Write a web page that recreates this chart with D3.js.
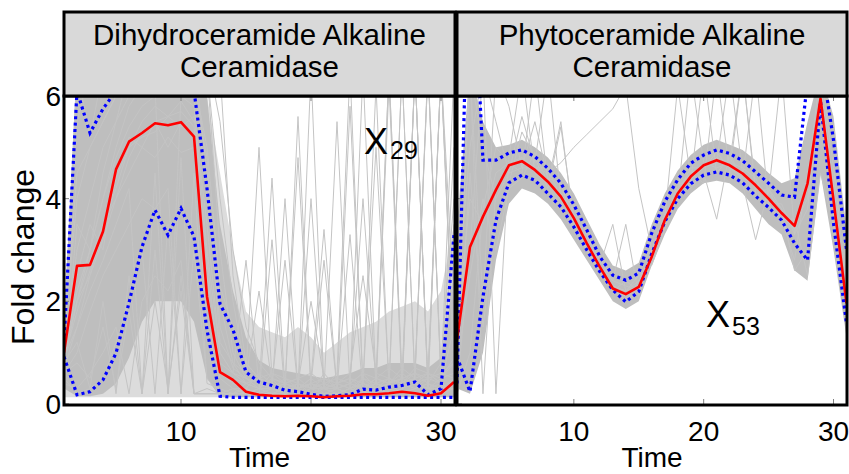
<!DOCTYPE html>
<html><head><meta charset="utf-8">
<script src="https://cdn.jsdelivr.net/npm/d3@7"></script>
<style>
body{margin:0;background:#fff}
svg{display:block}
text{font-family:"Liberation Sans",Arial,Helvetica,sans-serif;fill:#000}
</style>
</head><body>
<svg id="chart" width="849" height="474"></svg>
<script>
// ---------- data ----------
const times = [1,2,3,4,5,6,7,8,9,10,11,12,13,14,15,16,17,18,19,20,21,22,23,24,25,26,27,28,29,30,31];
const xTickValues = [10,20,30];
const yTickValues = [0,2,4,6];
const titles1 = ["Dihydroceramide Alkaline","Ceramidase"];
const titles2 = ["Phytoceramide Alkaline","Ceramidase"];
const cluster1 = ["X","29"];
const cluster2 = ["X","53"];
const xLabel = "Time";
const yLabel = "Fold change";

// Panel 1 : Dihydroceramide Alkaline Ceramidase
const dihyMean  = [1.0,2.69,2.71,3.36,4.57,5.11,5.28,5.47,5.43,5.49,5.21,2.09,0.62,0.47,0.24,0.18,0.16,0.15,0.16,0.15,0.13,0.15,0.16,0.19,0.19,0.21,0.24,0.21,0.16,0.21,0.43];
const dihyUpper = [1.19,6.1,5.28,5.75,6.1,6.5,6.5,6.5,6.5,6.5,6.1,4.2,1.95,1.45,0.62,0.43,0.36,0.27,0.24,0.19,0.15,0.16,0.18,0.29,0.27,0.33,0.36,0.43,0.18,0.3,3.3];
const dihyLower = [0.92,0.18,0.24,0.47,0.99,1.97,3.06,3.78,3.29,3.81,3.26,1.44,0.15,0.13,0.13,0.13,0.13,0.13,0.13,0.13,0.13,0.13,0.13,0.13,0.13,0.13,0.13,0.13,0.13,0.13,0.13];
const dihyDenseLo = [0.3,0.15,0.15,0.2,0.4,0.9,1.6,2.0,2.0,2.0,1.6,0.5,0.13,0.13,0.13,0.13,0.13,0.13,0.13,0.13,0.13,0.13,0.13,0.13,0.13,0.13,0.13,0.13,0.13,0.13,0.13];
const dihyDenseHi = [1.6,6.5,6.5,6.5,6.5,6.5,6.5,6.5,6.5,6.5,6.5,6.0,3.5,2.2,1.3,0.85,0.7,0.65,0.6,0.55,0.5,0.55,0.6,0.7,0.7,0.8,0.8,0.8,0.7,0.9,2.5];
const dihySparseLo = [0.13,0.13,0.13,0.13,0.13,0.13,0.13,0.13,0.13,0.13,0.13,0.13,0.13,0.13,0.13,0.13,0.13,0.13,0.13,0.13,0.13,0.13,0.13,0.13,0.13,0.13,0.13,0.13,0.13,0.13,0.13];
const dihySparseHi = [1.0,2.0,2.0,2.2,2.5,2.8,3.0,3.0,3.0,3.0,3.0,6.0,4.5,3.0,1.8,1.5,1.4,1.3,1.5,1.3,1.0,1.2,1.4,1.5,1.6,1.8,1.9,2.0,1.8,2.2,3.5];
const dihyLines = [
  [1.0,2.0,3.0,4.5,5.5,6.5,7,7,7,7,6,2,0.6,0.4,0.3,0.2,0.3,0.25,5.6,0.3,0.2,0.3,0.2,0.4,0.3,0.5,0.3,6.5,0.4,0.3,0.5],
  [0.9,1.5,2.2,2.8,3.5,4.2,0.2,4.5,0.2,4.8,0.2,0.3,0.2,0.2,0.3,0.2,3.2,0.2,0.3,4.0,0.3,0.2,0.3,0.4,6.2,0.3,0.4,0.3,0.5,6.5,0.7],
  [0.7,3.5,3.0,4.0,5.0,5.8,6.2,6.5,6.4,6.6,6.3,5.0,2.3,1.5,0.8,0.5,0.3,0.4,0.3,0.5,3.4,0.3,0.4,0.3,0.5,6.5,0.4,0.5,0.6,0.4,3.5],
  [1.2,6.5,5.2,6.5,6.8,7,7,7,7,7,7,6.5,4.0,2.0,0.6,0.4,0.3,0.3,0.4,0.3,0.3,5.5,0.3,0.4,0.3,0.4,0.5,0.6,6.6,0.5,0.8],
  [0.5,0.2,0.3,0.5,1.2,2.0,3.0,0.2,3.5,0.2,3.0,0.5,0.2,0.2,0.2,0.2,0.2,0.3,0.2,0.2,0.2,0.3,3.3,0.2,0.3,0.2,0.3,0.4,0.3,0.3,0.4],
  [1.3,4.0,5.0,5.5,6.0,6.3,6.0,6.2,0.2,6.0,5.8,3.0,1.0,0.6,2.8,0.4,0.3,0.5,0.3,0.4,0.3,0.3,0.4,4.0,0.4,0.3,6.5,0.4,0.5,0.6,0.5],
  [0.6,1.0,1.8,2.5,3.0,3.5,4.0,3.8,4.2,0.2,4.5,0.4,0.3,0.2,0.4,0.3,4.4,0.3,0.2,0.3,0.4,0.3,0.2,0.3,0.4,0.3,0.5,0.4,0.3,6.5,0.6],
  [1.0,2.5,3.5,3.0,4.5,5.2,5.0,5.5,5.0,5.5,5.2,1.5,0.5,0.3,0.3,0.6,0.4,0.3,0.3,0.5,0.3,0.6,6.5,0.3,0.5,0.4,0.6,0.4,0.3,0.4,2.5],
  [0.4,0.3,0.6,1.0,1.5,0.2,2.0,2.5,2.2,2.8,0.2,0.2,0.2,0.3,0.2,0.3,0.5,0.2,0.3,0.2,0.6,0.3,0.2,0.5,0.3,6.2,0.3,0.5,0.2,0.3,0.3],
  [1.1,5.5,6.5,6.5,7,7,7,7,7,7,7,6.8,5.5,3.0,1.5,0.8,0.5,0.4,0.5,0.6,0.4,0.5,0.4,0.6,0.5,0.7,0.5,0.6,0.5,0.4,1.5],
  [0.8,1.2,0.3,2.0,0.2,2.5,0.2,3.0,0.2,2.5,0.2,0.2,0.2,0.2,0.3,0.2,0.2,0.2,0.4,0.2,0.3,0.2,0.3,0.2,0.4,0.3,0.2,0.3,0.4,0.2,0.5],
  [0.9,2.0,2.5,3.5,4.0,4.5,5.0,4.8,5.2,4.9,5.0,2.5,0.8,0.6,0.4,0.5,0.6,0.5,0.4,2.0,0.5,0.4,0.6,2.5,0.6,0.5,0.4,0.7,0.6,0.5,0.9],
  [0.6,0.8,0.5,1.5,0.3,1.8,0.2,2.0,0.3,2.2,0.2,0.2,0.2,0.3,0.2,0.3,0.2,0.3,0.2,0.4,0.2,0.2,0.3,0.2,0.2,0.4,0.2,6.5,0.3,0.2,0.3],
  [1.4,6.5,6.8,7,7,7,7,7,6.0,6.5,6.8,4.5,1.2,0.8,0.6,5.0,0.5,0.4,0.3,0.4,0.3,0.4,0.5,0.3,0.4,0.5,0.4,0.6,0.4,0.8,4.0],
  [1.0,3.0,4.0,5.0,5.5,6.0,6.3,6.5,6.5,6.5,6.5,6.5,6.5,2.5,0.8,0.5,0.4,2.8,0.3,0.4,0.3,0.4,0.5,0.4,5.0,0.4,0.5,0.6,6.5,0.5,0.6],
  [0.8,2.0,2.8,3.5,4.2,5.0,5.5,5.8,5.6,5.9,5.5,6.5,3.0,1.0,0.5,0.4,0.3,0.4,4.8,0.3,0.5,0.4,0.3,6.5,0.4,0.3,0.5,6.5,0.4,6.5,1.0],
  [1.2,4.5,5.0,5.5,6.0,6.5,6.5,6.5,6.5,6.5,6.5,4.0,2.0,0.8,0.4,0.3,0.3,0.2,0.3,6.5,0.3,0.4,0.3,0.5,0.4,6.5,0.5,0.4,0.6,6.5,2.0],
  [0.7,1.5,2.5,3.2,4.0,4.8,5.3,5.5,5.6,5.4,5.6,3.5,1.0,0.6,0.5,2.2,0.4,0.3,0.3,0.4,2.8,0.3,0.4,0.6,0.3,0.4,0.7,0.5,6.5,0.6,0.8],
  [1.0,2.2,3.0,4.0,4.8,5.4,5.8,6.0,6.2,6.0,6.2,4.8,1.5,0.7,0.5,0.3,0.6,0.4,0.5,0.3,0.4,0.3,5.8,0.4,0.3,0.5,0.4,6.5,0.3,0.5,6.5],
  [0.9,1.8,2.6,3.3,4.4,5.0,5.2,5.3,5.6,5.7,5.4,2.8,0.6,0.5,0.4,0.5,0.3,4.0,0.3,0.4,0.5,0.3,0.4,0.3,0.5,0.4,6.5,0.4,0.6,0.4,5.0]
];

// Panel 2 : Phytoceramide Alkaline Ceramidase
const phytoMean  = [1.25,3.06,3.65,4.17,4.65,4.73,4.56,4.33,4.04,3.62,3.13,2.67,2.25,2.14,2.28,2.87,3.58,4.10,4.43,4.65,4.75,4.65,4.49,4.26,4.00,3.72,3.47,4.30,5.95,3.97,1.96];
const phytoUpper = [0.4,10,4.75,4.75,4.89,4.95,4.82,4.59,4.30,3.88,3.39,2.87,2.51,2.41,2.55,3.33,3.94,4.37,4.69,4.85,4.95,4.88,4.74,4.52,4.30,4.07,4.03,6.3,6.8,5.14,3.0];
const phytoLower = [0.92,0.24,2.09,3.58,4.31,4.46,4.36,4.10,3.84,3.45,3.0,2.58,2.22,1.99,2.19,2.93,3.55,4.0,4.29,4.46,4.52,4.46,4.31,4.05,3.83,3.58,3.13,2.80,5.9,3.52,1.57];
const phytoDenseLo = [0.3,0.2,1.0,2.8,3.9,4.2,4.1,3.9,3.6,3.2,2.8,2.4,2.0,1.85,2.0,2.7,3.3,3.8,4.1,4.3,4.35,4.3,4.1,3.8,3.5,3.3,2.6,2.4,4.5,3.0,1.3];
const phytoDenseHi = [3.5,6.5,5.5,5.0,5.05,5.15,5.0,4.8,4.5,4.1,3.6,3.1,2.7,2.6,2.75,3.5,4.1,4.55,4.85,5.05,5.15,5.05,4.95,4.75,4.5,4.3,4.4,5.5,6.5,5.6,3.4];
const phytoLines = [
  [1.0,6.5,0.2,4.2,4.6,4.8,4.6,4.3,4.0,3.6,3.1,2.6,2.2,2.1,2.3,2.9,3.6,6.2,4.4,4.6,4.8,4.6,4.5,4.2,4.0,3.7,3.4,4.4,6.0,4.0,1.9],
  [2.0,5.0,6.5,0.2,4.8,6.5,4.5,4.3,4.1,3.6,3.2,2.7,2.3,2.2,2.3,2.8,3.5,4.1,4.5,4.6,4.7,6.5,4.5,4.3,4.0,3.7,3.5,4.2,5.9,4.0,2.0],
  [0.3,3.0,6.5,5.5,4.5,5.6,4.7,6.5,4.0,3.7,3.1,2.7,3.5,2.2,2.4,2.9,3.6,4.0,4.5,4.6,4.8,4.7,6.5,4.2,4.1,3.8,3.5,4.0,5.8,3.9,1.9],
  [1.5,4.0,3.5,4.5,4.7,4.8,4.6,4.5,4.7,5.0,5.25,5.5,5.75,6.2,4.2,3.0,3.6,4.1,4.4,4.6,4.8,4.6,4.5,4.3,4.0,3.7,3.4,4.3,5.9,4.1,2.1],
  [0.8,2.5,4.0,3.0,4.2,4.4,4.9,4.3,5.5,3.5,3.3,2.8,2.4,3.5,2.1,3.0,3.4,4.2,4.2,4.5,3.6,4.9,4.3,3.2,4.2,3.6,2.8,4.5,5.8,3.7,2.0],
  [1.2,6.5,2.0,6.5,5.8,4.6,5.5,4.4,4.3,3.5,3.0,2.9,2.2,2.4,2.2,3.0,3.7,4.0,6.5,4.7,4.6,4.7,4.6,4.4,3.9,3.9,3.3,3.8,6.2,4.3,1.7],
  [0.5,4.5,1.5,3.5,4.3,5.3,4.8,4.2,5.4,3.6,3.2,2.6,2.3,2.2,2.5,2.7,3.4,4.2,4.5,4.3,6.5,4.5,6.5,4.1,4.2,3.8,2.6,3.0,5.6,4.2,2.2],
  [2.5,6.5,5.0,4.0,4.5,4.6,4.6,4.6,4.0,3.9,3.0,2.6,2.3,2.0,2.4,2.8,3.5,4.3,4.3,6.5,4.5,4.8,4.4,6.5,3.9,3.6,3.6,2.5,4.5,3.5,1.5],
  [0.2,1.0,3.8,5.0,4.7,4.5,6.5,4.3,4.0,3.6,3.3,2.7,2.4,2.3,2.2,2.9,3.6,4.1,4.6,4.6,4.9,4.6,4.4,4.3,4.1,6.5,3.3,4.4,6.5,4.6,2.3]
];

// ---------- drawing ----------
const svg = d3.select("#chart");
const plotTop = 96, plotBottom = 405, headerTop = 12;
const y = d3.scaleLinear().domain([0,6]).range([404,96]);

const panels = [
  {x0:64, x1:455, range:[64,454], titles:titles1, cluster:cluster1, clusterPos:[364,154,5],
   mean:dihyMean, upper:dihyUpper, lower:dihyLower, denseLo:dihyDenseLo, denseHi:dihyDenseHi,
   sparseLo:dihySparseLo, sparseHi:dihySparseHi, lines:dihyLines, yAxis:true},
  {x0:457, x1:847, range:[457,846.5], titles:titles2, cluster:cluster2, clusterPos:[706,327,8],
   mean:phytoMean, upper:phytoUpper, lower:phytoLower, denseLo:phytoDenseLo, denseHi:phytoDenseHi,
   sparseLo:null, sparseHi:null, lines:phytoLines, yAxis:false}
];

panels.forEach((p, pi) => {
  const x = d3.scaleLinear().domain([1,31]).range(p.range);
  const g = svg.append("g");
  const clipId = "clip" + pi;
  svg.append("clipPath").attr("id", clipId).append("rect")
    .attr("x", p.x0).attr("y", plotTop).attr("width", p.x1 - p.x0).attr("height", plotBottom - plotTop - 1);

  const plot = g.append("g").attr("clip-path", `url(#${clipId})`);
  const area = (lo, hi) => d3.area().x((d,i)=>x(times[i])).y0((d,i)=>y(lo[i])).y1((d,i)=>y(hi[i]))(times);
  const line = d3.line().x((d,i)=>x(times[i])).y(d=>y(d));

  if (p.sparseLo) {
    plot.append("path").attr("d", area(p.sparseLo, p.sparseHi)).attr("fill", "#dcdcdc");
  }
  plot.append("path").attr("d", area(p.denseLo, p.denseHi)).attr("fill", "#bebebe");
  p.lines.forEach(l => {
    plot.append("path").attr("d", line(l)).attr("fill","none")
      .attr("stroke","#c4c4c4").attr("stroke-width",1);
  });
  // dotted bounds
  [p.upper, p.lower].forEach(b => {
    plot.append("path").attr("d", line(b)).attr("fill","none")
      .attr("stroke","#0000ff").attr("stroke-width",3.2)
      .attr("stroke-dasharray","3,3.4");
  });
  // mean
  plot.append("path").attr("d", line(p.mean)).attr("fill","none")
    .attr("stroke","#ff0000").attr("stroke-width",2.6).attr("stroke-linejoin","round");

  // ticks (inward)
  const tk = g.append("g").attr("stroke","#808080").attr("stroke-width",1);
  xTickValues.forEach(v => {
    tk.append("line").attr("x1",x(v)).attr("x2",x(v)).attr("y1",plotBottom-1).attr("y2",plotBottom-6);
    tk.append("line").attr("x1",x(v)).attr("x2",x(v)).attr("y1",plotTop+1).attr("y2",plotTop+5);
  });
  yTickValues.forEach(v => {
    tk.append("line").attr("x1",p.x0+1).attr("x2",p.x0+5).attr("y1",y(v)).attr("y2",y(v));
  });

  // x tick labels
  xTickValues.forEach(v => {
    g.append("text").attr("x", x(v)).attr("y", 441).attr("text-anchor","middle")
      .attr("font-size", 28).text(v);
  });
  // x axis title
  g.append("text").attr("x", (p.x0+p.x1)/2).attr("y", 467).attr("text-anchor","middle")
    .attr("font-size", 28).text(xLabel);

  // y axis labels
  if (p.yAxis) {
    yTickValues.forEach(v => {
      g.append("text").attr("x", 61).attr("y", y(v)+10).attr("text-anchor","end")
        .attr("font-size", 28).text(v);
    });
    g.append("text").attr("transform","translate(34,257) rotate(-90)")
      .attr("text-anchor","middle").attr("font-size",32).text(yLabel);
  }

  // frames
  g.append("rect").attr("x",p.x0).attr("y",plotTop).attr("width",p.x1-p.x0).attr("height",plotBottom-plotTop)
    .attr("fill","none").attr("stroke","#000").attr("stroke-width",3);
  g.append("rect").attr("x",p.x0).attr("y",headerTop).attr("width",p.x1-p.x0).attr("height",plotTop-headerTop)
    .attr("fill","#d9d9d9").attr("stroke","#000").attr("stroke-width",3);
  const cx = (p.x0+p.x1)/2;
  g.append("text").attr("x",cx).attr("y",45).attr("text-anchor","middle").attr("font-size",29.5).text(p.titles[0]);
  g.append("text").attr("x",cx).attr("y",77).attr("text-anchor","middle").attr("font-size",29.5).text(p.titles[1]);

  // cluster label
  const t = g.append("text").attr("x",p.clusterPos[0]).attr("y",p.clusterPos[1]).attr("font-size",36);
  t.append("tspan").text(p.cluster[0]);
  t.append("tspan").attr("font-size",25).attr("dy",p.clusterPos[2]).attr("dx",2).text(p.cluster[1]);
});
</script>
</body></html>
